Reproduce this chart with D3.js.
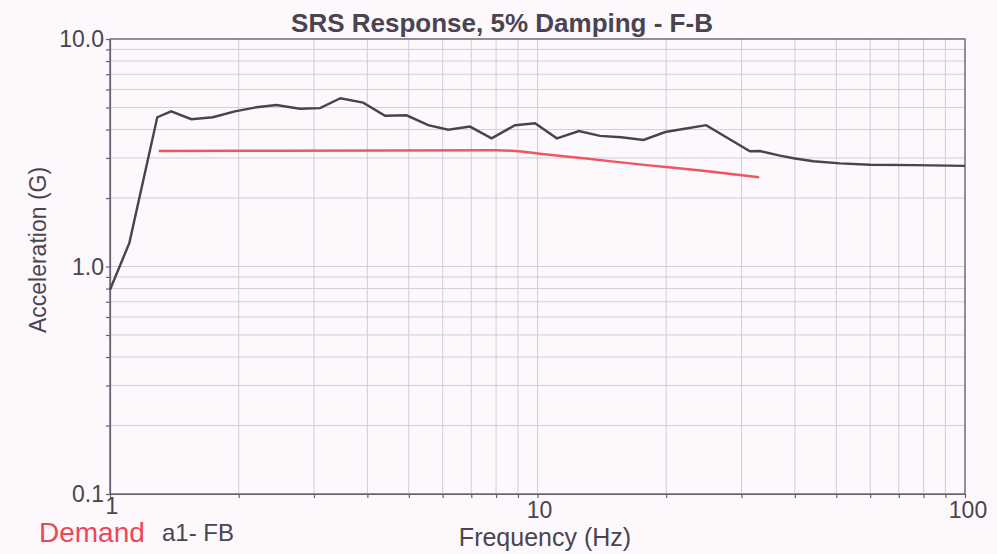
<!DOCTYPE html>
<html>
<head>
<meta charset="utf-8">
<script src="https://cdnjs.cloudflare.com/ajax/libs/d3/7.8.5/d3.min.js"></script>
<style>
  body { margin: 0; background: #fcf8fc; }
  text { font-family: "Liberation Sans", Arial, sans-serif; fill: #4a4450; }
</style>
</head>
<body>
<div id="chart"></div>
<script>
// SRS response (black)
var freq = [1, 1.11, 1.29, 1.39, 1.55, 1.74, 1.96, 2.2, 2.45, 2.78, 3.1, 3.46, 3.91, 4.4, 4.94, 5.55,
            6.18, 6.95, 7.81, 8.86, 9.87, 11.1, 12.5, 14.0, 15.7, 17.7, 19.9, 22.1, 24.8, 31.4, 33.1,
            36.9, 39.7, 44.2, 51, 60, 75.7, 100];
var accel = [0.79, 1.27, 4.53, 4.81, 4.44, 4.53, 4.81, 5.01, 5.13, 4.94, 4.97, 5.49, 5.25, 4.60, 4.62, 4.18,
             3.99, 4.12, 3.66, 4.18, 4.26, 3.66, 3.94, 3.75, 3.70, 3.60, 3.90, 4.03, 4.18, 3.21, 3.22,
             3.07, 2.99, 2.90, 2.84, 2.80, 2.79, 2.77];

// demand curve (red)
var demandFreq = [1.3, 8.0, 8.9, 10, 13, 18, 25, 33];
var demandAccel = [3.22, 3.24, 3.22, 3.14, 2.98, 2.79, 2.62, 2.47];

var xMajor = [1, 10, 100];
var yMajor = [0.1, 1, 10];
var yMajorLabels = ["0.1", "1.0", "10.0"];

var cfg = { width: 997, height: 554, left: 110, top: 39, right: 965, bottom: 494 };

var svg = d3.select("#chart").append("svg")
    .attr("width", cfg.width)
    .attr("height", cfg.height);

var x = d3.scaleLog().domain([1, 100]).range([cfg.left, cfg.right]);
var y = d3.scaleLog().domain([0.1, 10]).range([cfg.bottom, cfg.top]);

// every 1..9 step of each decade
function decadeTicks(lo, hi) {
  var t = [];
  for (var d = lo; d < hi; d *= 10)
    for (var k = 1; k <= 9; k++) t.push(+(d * k).toPrecision(3));
  t.push(hi);
  return t;
}
var xTicks = decadeTicks(1, 100);
var yTicks = decadeTicks(0.1, 10);

var grid = svg.append("g").attr("class", "grid");
grid.selectAll(".vg").data(xTicks).enter().append("line")
    .attr("x1", function(d) { return x(d); })
    .attr("x2", function(d) { return x(d); })
    .attr("y1", cfg.top).attr("y2", cfg.bottom)
    .style("stroke", "#d3ccd9").style("stroke-width", 1);
grid.selectAll(".hg").data(yTicks).enter().append("line")
    .attr("y1", function(d) { return y(d); })
    .attr("y2", function(d) { return y(d); })
    .attr("x1", cfg.left).attr("x2", cfg.right)
    .style("stroke", "#d3ccd9").style("stroke-width", 1);

// axes: tick marks only, labels drawn separately
svg.append("g")
    .attr("transform", "translate(0," + cfg.bottom + ")")
    .call(d3.axisBottom(x).tickValues(xTicks).tickFormat("").tickSizeInner(4).tickSizeOuter(0));
svg.append("g")
    .attr("transform", "translate(" + cfg.left + ",0)")
    .call(d3.axisLeft(y).tickValues(yTicks).tickFormat("").tickSizeInner(4).tickSizeOuter(0));
svg.selectAll(".domain, .tick line").style("stroke", "#6a6070").style("stroke-width", 1.2);

svg.append("rect")
    .attr("x", cfg.left).attr("y", cfg.top)
    .attr("width", cfg.right - cfg.left).attr("height", cfg.bottom - cfg.top)
    .style("fill", "none").style("stroke", "#6a6070").style("stroke-width", 1.3);

svg.selectAll(".xl").data(xMajor).enter().append("text")
    .attr("x", function(d) { return x(d) + (d == 100 ? 3 : 2); })
    .attr("y", function(d) { return d == 1 ? 514 : 518; })
    .attr("text-anchor", "middle")
    .style("font-size", "23px")
    .text(function(d) { return d; });

svg.selectAll(".yl").data(yMajor).enter().append("text")
    .attr("x", 104)
    .attr("y", function(d) { return y(d) + 8; })
    .attr("text-anchor", "end")
    .style("font-size", "23px")
    .text(function(d, i) { return yMajorLabels[i]; });

svg.append("text")
    .attr("x", 502).attr("y", 32)
    .attr("text-anchor", "middle")
    .style("font-size", "26px").style("font-weight", "bold")
    .text("SRS Response, 5% Damping - F-B");

svg.append("text")
    .attr("x", 545).attr("y", 546)
    .attr("text-anchor", "middle")
    .style("font-size", "25px")
    .text("Frequency (Hz)");

svg.append("text")
    .attr("transform", "translate(46,250) rotate(-90)")
    .attr("text-anchor", "middle")
    .style("font-size", "23px")
    .text("Acceleration (G)");

svg.append("text")
    .attr("x", 39).attr("y", 542)
    .style("font-size", "28px").style("fill", "#ee4658")
    .text("Demand");
svg.append("text")
    .attr("x", 162).attr("y", 541)
    .style("font-size", "24px")
    .text("a1- FB");

var line = d3.line()
    .x(function(d) { return x(d[0]); })
    .y(function(d) { return y(d[1]); });

svg.append("path")
    .datum(d3.zip(demandFreq, demandAccel))
    .attr("d", line.curve(d3.curveMonotoneX))
    .style("fill", "none").style("stroke", "#f05562").style("stroke-width", 2.5);

svg.append("path")
    .datum(d3.zip(freq, accel))
    .attr("d", line.curve(d3.curveLinear))
    .style("fill", "none").style("stroke", "#4d404f").style("stroke-width", 2.4);
</script>
</body>
</html>
